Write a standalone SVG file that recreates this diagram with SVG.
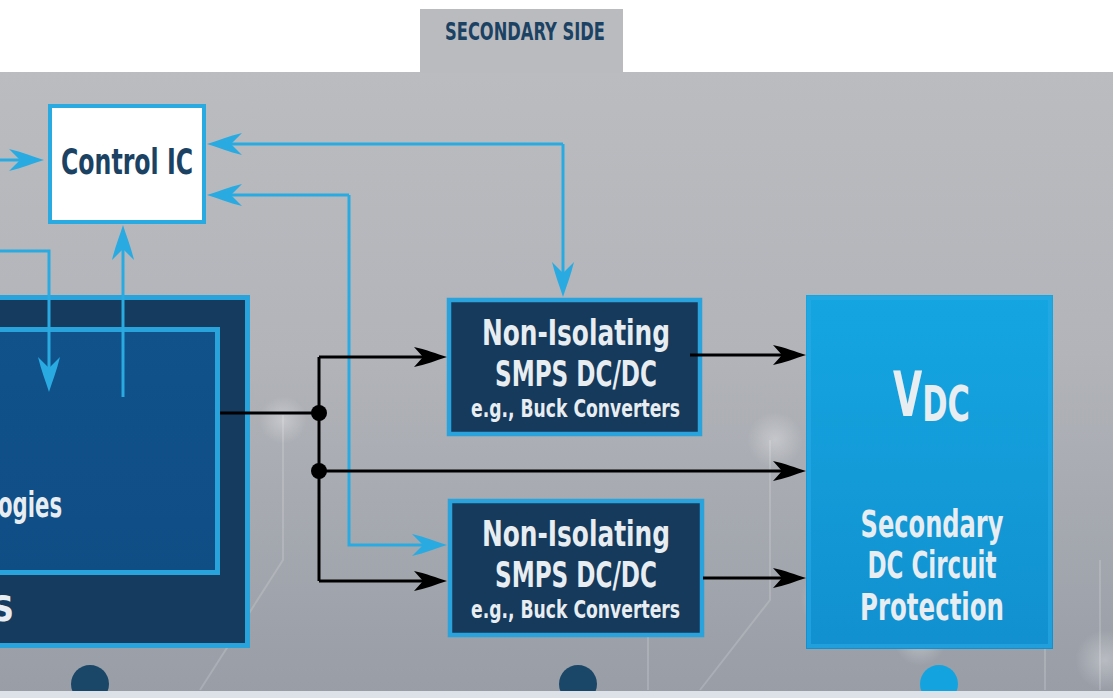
<svg xmlns="http://www.w3.org/2000/svg" width="1113" height="698" viewBox="0 0 1113 698">
  <style>
    .t { font-family: "DejaVu Sans Condensed", "Liberation Sans Narrow", "Liberation Sans", sans-serif; font-weight: bold; }
    .navy { fill: #1b4263; }
    .light { fill: #e8edf2; }
    .blue { fill: none; stroke: #29abe2; stroke-width: 3; }
    .blk { fill: none; stroke: #000; stroke-width: 3; }
    .deco { fill: none; stroke: #ffffff; stroke-opacity: 0.16; stroke-width: 2; }
  </style>
  <defs>
    <linearGradient id="bg" x1="0" y1="0" x2="0" y2="1">
      <stop offset="0" stop-color="#bbbcc0"/>
      <stop offset="0.45" stop-color="#b2b4b9"/>
      <stop offset="1" stop-color="#989da6"/>
    </linearGradient>
    <linearGradient id="inner" x1="0" y1="0" x2="0" y2="1">
      <stop offset="0" stop-color="#11528b"/>
      <stop offset="1" stop-color="#0f4d85"/>
    </linearGradient>
    <linearGradient id="vdc" x1="0" y1="0" x2="0" y2="1">
      <stop offset="0" stop-color="#14a6e1"/>
      <stop offset="1" stop-color="#1290cf"/>
    </linearGradient>
    <radialGradient id="glow">
      <stop offset="0" stop-color="#ffffff" stop-opacity="0.3"/>
      <stop offset="1" stop-color="#ffffff" stop-opacity="0"/>
    </radialGradient>
    <marker id="ab" viewBox="-14 -12 38 24" markerWidth="38" markerHeight="24" refX="0" refY="0" markerUnits="userSpaceOnUse" orient="auto">
      <path d="M22,0 C12,-3 0,-8 -13,-11 L-2,0 L-13,11 C0,8 12,3 22,0 Z" fill="#29abe2"/>
    </marker>
    <marker id="ak" viewBox="-14 -12 38 24" markerWidth="38" markerHeight="24" refX="0" refY="0" markerUnits="userSpaceOnUse" orient="auto">
      <path d="M22,0 C12,-3 0,-8 -11,-10 L-2,0 L-11,10 C0,8 12,3 22,0 Z" fill="#000"/>
    </marker>
  </defs>

  <!-- background -->
  <rect x="0" y="0" width="1113" height="698" fill="#ffffff"/>
  <rect x="0" y="72" width="1113" height="626" fill="url(#bg)"/>
  <g id="decor">
    <path class="deco" d="M283,415 V560 L200,690"/>
    <path class="deco" d="M648,620 V690"/>
    <path class="deco" d="M770,440 V600 L700,690"/>
    <path class="deco" d="M1100,560 V690"/>
    <path class="deco" d="M1045,600 V690"/>
    <circle cx="775" cy="440" r="28" fill="url(#glow)"/>
    <circle cx="830" cy="600" r="30" fill="url(#glow)"/>
    <circle cx="920" cy="640" r="26" fill="url(#glow)"/>
    <circle cx="1105" cy="660" r="30" fill="url(#glow)"/>
    <circle cx="283" cy="420" r="24" fill="url(#glow)"/>
  </g>

  <g id="tab">
    <rect x="420" y="9" width="203" height="64" fill="#babbbf"/>
    <text class="t navy" x="525" y="40" font-size="25" text-anchor="middle" textLength="160" lengthAdjust="spacingAndGlyphs">SECONDARY SIDE</text>
  </g>

  <g id="left-block">
    <rect x="-10" y="297.5" width="257.5" height="348" fill="#153b5e" stroke="#29a3dc" stroke-width="5"/>
    <rect x="-10" y="329.5" width="227.5" height="243" fill="url(#inner)" stroke="#29a3dc" stroke-width="5"/>
    <text class="t light" x="-2" y="517" font-size="35" textLength="64" lengthAdjust="spacingAndGlyphs">ogies</text>
    <text class="t light" x="14" y="621" font-size="36" text-anchor="end">S</text>
  </g>

  <g id="control-ic">
    <rect x="50" y="106" width="154" height="116" fill="#ffffff" stroke="#29abe2" stroke-width="4"/>
    <text class="t navy" x="61" y="174" font-size="36" textLength="132" lengthAdjust="spacingAndGlyphs">Control IC</text>
  </g>

  <g id="smps1">
    <rect x="449" y="300" width="251" height="134" fill="#153a5c" stroke="#2aa2dc" stroke-width="4.5"/>
    <text class="t light" x="482" y="345" font-size="35" textLength="188" lengthAdjust="spacingAndGlyphs">Non-Isolating</text>
    <text class="t light" x="495" y="386" font-size="35" textLength="162" lengthAdjust="spacingAndGlyphs">SMPS DC/DC</text>
    <text class="t light" x="471" y="417" font-size="24" textLength="209" lengthAdjust="spacingAndGlyphs">e.g., Buck Converters</text>
  </g>

  <g id="smps2">
    <rect x="450" y="501" width="252" height="134" fill="#153a5c" stroke="#2aa2dc" stroke-width="4.5"/>
    <text class="t light" x="482" y="546" font-size="35" textLength="188" lengthAdjust="spacingAndGlyphs">Non-Isolating</text>
    <text class="t light" x="495" y="587" font-size="35" textLength="162" lengthAdjust="spacingAndGlyphs">SMPS DC/DC</text>
    <text class="t light" x="471" y="618" font-size="24" textLength="209" lengthAdjust="spacingAndGlyphs">e.g., Buck Converters</text>
  </g>

  <g id="vdc-block">
    <rect x="806" y="295" width="247" height="354" fill="url(#vdc)"/>
    <rect x="809" y="298" width="241" height="348" fill="none" stroke="#2aaae5" stroke-width="4" stroke-opacity="0.6"/>
    <text class="t light" x="893" y="416" font-size="62" textLength="77" lengthAdjust="spacingAndGlyphs">V<tspan font-size="50" dy="5">DC</tspan></text>
    <text class="t light" x="932" y="537" font-size="37" text-anchor="middle" textLength="143" lengthAdjust="spacingAndGlyphs">Secondary</text>
    <text class="t light" x="932" y="578" font-size="37" text-anchor="middle" textLength="129" lengthAdjust="spacingAndGlyphs">DC Circuit</text>
    <text class="t light" x="932" y="620" font-size="37" text-anchor="middle" textLength="144" lengthAdjust="spacingAndGlyphs">Protection</text>
  </g>

  <g id="connectors">
    <!-- blue control lines -->
    <path class="blue" d="M0,160 H22" marker-end="url(#ab)"/>
    <path class="blue" d="M563,144 H229" marker-end="url(#ab)"/>
    <path class="blue" d="M563,144 V275" marker-end="url(#ab)"/>
    <path class="blue" d="M349,195 H229" marker-end="url(#ab)"/>
    <path class="blue" d="M349,195 V545 H425" marker-end="url(#ab)"/>
    <path class="blue" d="M123,397 V247" marker-end="url(#ab)"/>
    <path class="blue" d="M0,251 H49 V370" marker-end="url(#ab)"/>
    <!-- black power lines -->
    <path class="blk" d="M220,413 H319"/>
    <path class="blk" d="M319,357 V581"/>
    <path class="blk" d="M319,357 H425" marker-end="url(#ak)"/>
    <path class="blk" d="M319,471 H784" marker-end="url(#ak)"/>
    <path class="blk" d="M319,581 H425" marker-end="url(#ak)"/>
    <path class="blk" d="M690,355 H784" marker-end="url(#ak)"/>
    <path class="blk" d="M703,578 H784" marker-end="url(#ak)"/>
    <circle cx="319" cy="413" r="8" fill="#000"/>
    <circle cx="319" cy="471" r="8" fill="#000"/>
  </g>

  <g id="bottom">
    <circle cx="90" cy="684" r="19" fill="#1a4668"/>
    <circle cx="578" cy="684" r="19" fill="#1a4668"/>
    <circle cx="939" cy="684" r="19" fill="#13a4e0"/>
    <rect x="0" y="691" width="1113" height="7" fill="#dde2e8"/>
  </g>
</svg>
